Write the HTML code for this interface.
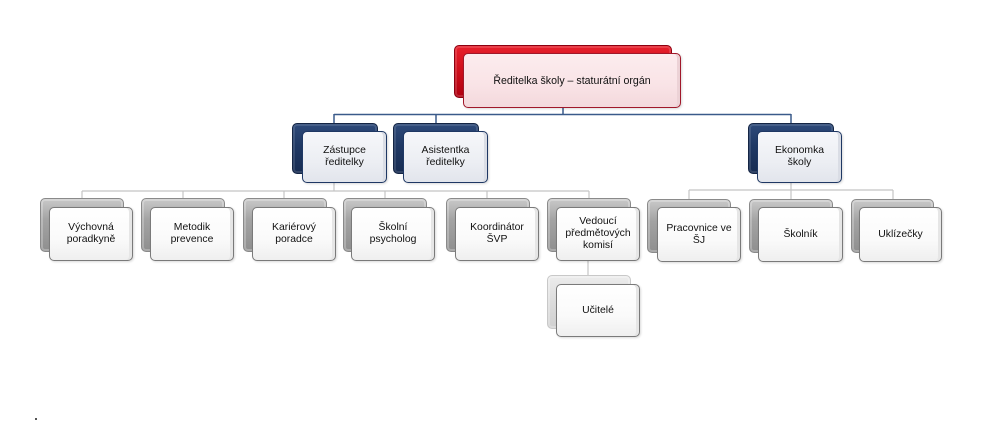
<!DOCTYPE html>
<html><head><meta charset="utf-8">
<style>
html,body{margin:0;padding:0;background:#fff;}
body{width:988px;height:421px;position:relative;overflow:hidden;font-family:"Liberation Sans",Arial,sans-serif;}
.b{position:absolute;border-radius:5px;box-sizing:border-box;}
.f{position:absolute;border-radius:5px;box-sizing:border-box;display:flex;align-items:center;justify-content:center;text-align:center;font-size:10.4px;line-height:12px;color:#111;}
.bg{background:linear-gradient(180deg,#c9c9c9 0%,#a3a3a3 40%,#8f8f8f 100%);border:1px solid #8a8a8a;box-shadow:inset 0 0 0 2px rgba(255,255,255,0.25);}
.fg{background:linear-gradient(180deg,#ffffff 0%,#fafafa 60%,#efefef 100%);border:1.3px solid #7a7a7a;box-shadow:inset -3px 0 0 #e6e6e6,1px 1px 2px rgba(0,0,0,0.15);}
.bn{background:linear-gradient(180deg,#2e4a7a 0%,#1f3864 45%,#172c52 100%);border:1px solid #142544;box-shadow:inset 0 0 0 2px rgba(255,255,255,0.12);}
.fn{background:linear-gradient(180deg,#f6f7fa 0%,#eceef3 60%,#e2e5ec 100%);border:1.5px solid #1f3864;box-shadow:inset -3px 0 0 #dadde5,1px 1px 2px rgba(0,0,0,0.15);}
.br{background:linear-gradient(180deg,#e8202c 0%,#d0101c 45%,#b00010 100%);border:1px solid #8c0010;box-shadow:inset 0 0 0 2px rgba(255,255,255,0.15);}
.fr{background:linear-gradient(180deg,#fcecee 0%,#f9e3e6 60%,#f3d8dc 100%);border:1.5px solid #a0182a;box-shadow:inset -3px 0 0 #ecd2d6,1px 1px 2px rgba(0,0,0,0.15);}
</style></head><body>
<svg width="988" height="421" style="position:absolute;left:0;top:0" xmlns="http://www.w3.org/2000/svg">
<g stroke="#3a5a8a" stroke-width="1.5" fill="none">
<line x1="563" y1="106" x2="563" y2="114.5"/>
<line x1="334" y1="114.5" x2="791" y2="114.5"/>
<line x1="334" y1="114" x2="334" y2="124"/>
<line x1="436" y1="114" x2="436" y2="124"/>
<line x1="791" y1="114" x2="791" y2="124"/>
</g>
<g stroke="#c4c4c4" stroke-width="1.2" fill="none">
<line x1="334" y1="183" x2="334" y2="191"/>
<line x1="82" y1="191" x2="589" y2="191"/>
<line x1="82" y1="191" x2="82" y2="199"/>
<line x1="183" y1="191" x2="183" y2="199"/>
<line x1="284" y1="191" x2="284" y2="199"/>
<line x1="385" y1="191" x2="385" y2="199"/>
<line x1="487" y1="191" x2="487" y2="199"/>
<line x1="589" y1="191" x2="589" y2="199"/>
<line x1="791" y1="183" x2="791" y2="190"/>
<line x1="689" y1="190" x2="893" y2="190"/>
<line x1="689" y1="190" x2="689" y2="199"/>
<line x1="791" y1="190" x2="791" y2="199"/>
<line x1="893" y1="190" x2="893" y2="199"/>
<line x1="588" y1="261" x2="588" y2="276"/>
</g>
<rect x="35" y="418" width="2" height="2" fill="#555"/>
</svg>

<!-- top -->
<div class="b br" style="left:454px;top:45px;width:218px;height:53px;"></div>
<div class="f fr" style="left:463px;top:53px;width:218px;height:55px;font-size:10.6px;">Ředitelka školy – staturátní orgán</div>

<!-- level 2 -->
<div class="b bn" style="left:292px;top:123px;width:86px;height:51px;"></div>
<div class="f fn" style="left:302px;top:131px;width:85px;height:52px;">Zástupce<br>ředitelky</div>

<div class="b bn" style="left:393px;top:123px;width:86px;height:51px;"></div>
<div class="f fn" style="left:403px;top:131px;width:85px;height:52px;">Asistentka<br>ředitelky</div>

<div class="b bn" style="left:748px;top:123px;width:86px;height:51px;"></div>
<div class="f fn" style="left:757px;top:131px;width:85px;height:52px;">Ekonomka<br>školy</div>

<!-- level 3 -->
<div class="b bg" style="left:40px;top:198px;width:84px;height:54px;"></div>
<div class="f fg" style="left:49px;top:207px;width:84px;height:54px;">Výchovná<br>poradkyně</div>

<div class="b bg" style="left:141px;top:198px;width:84px;height:54px;"></div>
<div class="f fg" style="left:150px;top:207px;width:84px;height:54px;">Metodik<br>prevence</div>

<div class="b bg" style="left:243px;top:198px;width:84px;height:54px;"></div>
<div class="f fg" style="left:252px;top:207px;width:84px;height:54px;">Kariérový<br>poradce</div>

<div class="b bg" style="left:343px;top:198px;width:84px;height:54px;"></div>
<div class="f fg" style="left:351px;top:207px;width:84px;height:54px;">Školní<br>psycholog</div>

<div class="b bg" style="left:446px;top:198px;width:84px;height:54px;"></div>
<div class="f fg" style="left:455px;top:207px;width:84px;height:54px;">Koordinátor<br>ŠVP</div>

<div class="b bg" style="left:547px;top:198px;width:84px;height:54px;"></div>
<div class="f fg" style="left:556px;top:207px;width:84px;height:54px;">Vedoucí<br>předmětových<br>komisí</div>

<div class="b bg" style="left:547px;top:275px;width:84px;height:54px;background:linear-gradient(180deg,#ececec 0%,#dcdcdc 50%,#d0d0d0 100%);border-color:#c8c8c8;"></div>
<div class="f fg" style="left:556px;top:284px;width:84px;height:53px;">Učitelé</div>

<div class="b bg" style="left:647px;top:199px;width:84px;height:54px;"></div>
<div class="f fg" style="left:657px;top:207px;width:84px;height:55px;">Pracovnice ve<br>ŠJ</div>

<div class="b bg" style="left:749px;top:199px;width:84px;height:54px;"></div>
<div class="f fg" style="left:758px;top:207px;width:85px;height:55px;">Školník</div>

<div class="b bg" style="left:851px;top:199px;width:83px;height:54px;"></div>
<div class="f fg" style="left:859px;top:207px;width:83px;height:55px;">Uklízečky</div>
</body></html>
